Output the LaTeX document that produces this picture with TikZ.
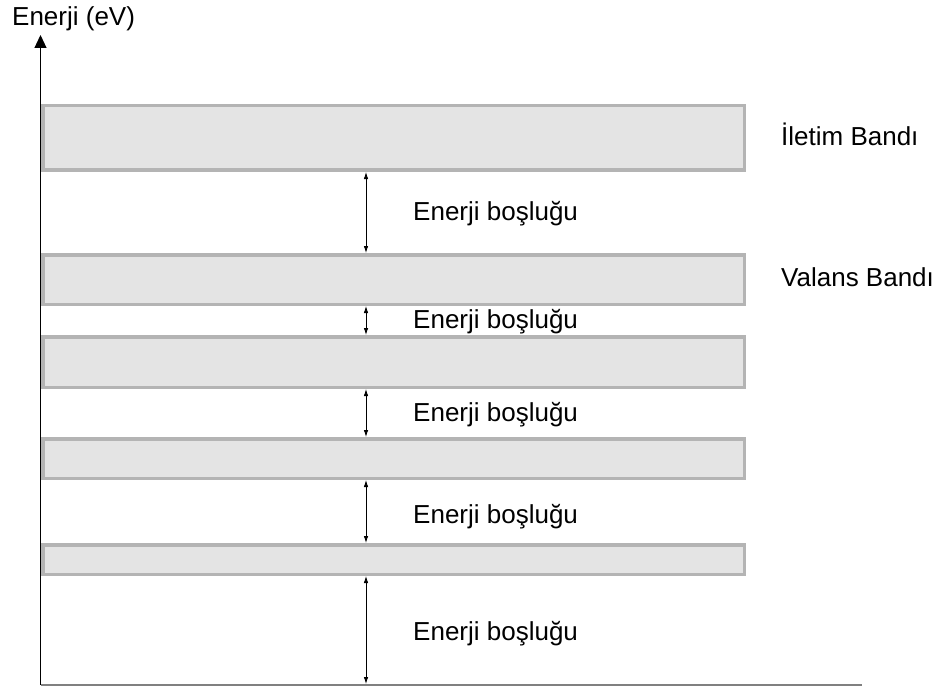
\documentclass[tikz,border=0pt]{standalone}
\usepackage{fontspec}
\setmainfont{Liberation Sans}
\usetikzlibrary{arrows.meta}
\definecolor{bandfill}{HTML}{E4E4E4}
\definecolor{bandline}{HTML}{B4B4B4}
\definecolor{axisgray}{HTML}{808080}
\begin{document}
\begin{tikzpicture}[x=1pt,y=-1pt,
  band/.style={draw=bandline,fill=bandfill,line width=3.5pt,rectangle,inner sep=0pt,minimum width=701.5pt},
  gaparrow/.style={{Latex[length=7pt,width=4.5pt]}-{Latex[length=7pt,width=4.5pt]},line width=0.8pt},
  lbl/.style={anchor=base west,inner sep=0pt,font=\fontsize{26}{30}\selectfont}]
\useasboundingbox (0,0) rectangle (941,687);
% axes
\coordinate (o) at (40.5,684.5);
\coordinate (ytop) at (40.5,35);
\coordinate (xend) at (862,684.5);
\draw[axisgray,line width=2pt] (o) -- (xend);
\draw[line width=1.2pt,-{Triangle[length=13pt,width=12pt]}] (o) -- (ytop);
% bands
\node[band,minimum height=64.5pt] (b1) at (393.5,138) {};
\node[band,minimum height=49.5pt] (b2) at (393.5,279.5) {};
\node[band,minimum height=50.5pt] (b3) at (393.5,362) {};
\node[band,minimum height=39.5pt] (b4) at (393.5,458.5) {};
\node[band,minimum height=29.5pt] (b5) at (393.5,559.5) {};
\coordinate (ax) at (366,0);
\coordinate (axb) at (366,684);
% gap arrows
\draw[gaparrow] (b1.south -| ax) -- (b2.north -| ax);
\draw[gaparrow] (b2.south -| ax) -- (b3.north -| ax);
\draw[gaparrow] (b3.south -| ax) -- (b4.north -| ax);
\draw[gaparrow] (b4.south -| ax) -- (b5.north -| ax);
\draw[gaparrow] (b5.south -| ax) -- (axb);
% labels
\node[lbl] (g1) at (413,220.5) {Enerji boşluğu};
\node[lbl] (g2) at (413,328.5) {Enerji boşluğu};
\node[lbl] (g3) at (413,421.5) {Enerji boşluğu};
\node[lbl] (g4) at (413,523.5) {Enerji boşluğu};
\node[lbl] (g5) at (413,640.5) {Enerji boşluğu};
\node[lbl] (cb) at (781,146) {İletim Bandı};
\node[lbl] (vb) at (781,286) {Valans Bandı};
\node[lbl] (yl) at (12,26) {Enerji (eV)};
\end{tikzpicture}
\end{document}
